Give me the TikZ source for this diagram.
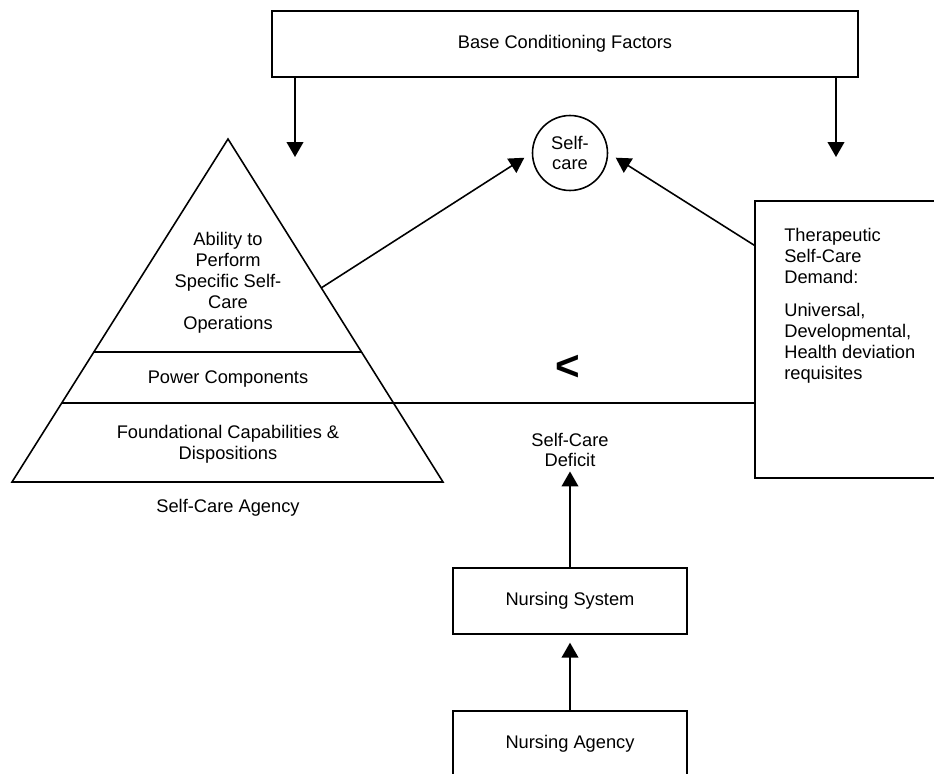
\documentclass[tikz,border=0pt]{standalone}
\usepackage{fontspec}
\setmainfont{Liberation Sans}
\usetikzlibrary{arrows.meta,calc}
\tikzset{
  txt/.style={font=\fontsize{10.4}{11.9}\selectfont, inner sep=2pt},
  box/.style={txt, draw, line width=0.9pt, minimum width=4.68cm, minimum height=1.32cm},
  flow/.style={-{Triangle[width=9.5pt,length=8.5pt]}, line width=0.9pt}
}
\begin{document}
\begin{tikzpicture}[x=0.02cm,y=-0.02cm, line width=0.9pt]
\useasboundingbox (0,0) rectangle (934,774);
\node [box, minimum width=11.72cm] (bcf) at (565,44) {Base Conditioning Factors};
\node [txt, draw, circle, minimum size=1.5cm, align=center, inner sep=0pt] (sc) at (570,153) {Self-\\care};
\node [box, minimum width=3.8cm, minimum height=5.54cm] (tscd) at (850,339.5) {};
\node [txt, anchor=north west, align=left] (tscdtxt) at (780,224) {Therapeutic\\Self-Care\\Demand:\\[7pt]Universal,\\Developmental,\\Health deviation\\requisites};
\node [box] (nsys) at (570,601) {Nursing System};
\node [box] (nag) at (570,744) {Nursing Agency};
\node [txt, align=center] (scd) at (570,450) {Self-Care\\Deficit};
\node [txt, font=\fontsize{24}{24}\selectfont\bfseries] (lt) at (568,368) {<};
\coordinate (apex) at (228,139) ;
\coordinate (bl) at (12,482) ;
\coordinate (br) at (443,482) ;
\draw (apex) -- (br) -- (bl) -- cycle ;
\draw ($(apex)!0.621!(bl)$) -- ($(apex)!0.621!(br)$) ;
\draw ($(apex)!0.770!(bl)$) coordinate (lvl) -- (lvl -| tscd.west) ;
\node [txt, align=center] (abl) at (228,283) {Ability to\\Perform\\Specific Self-\\Care\\Operations};
\node [txt] (pow) at (228,379) {Power Components};
\node [txt, align=center] (fnd) at (228,444) {Foundational Capabilities \&\\Dispositions};
\node [txt] (sca) at (228,508) {Self-Care Agency};
\coordinate (bcfl) at (295,157) ;
\coordinate (bcfr) at (836,157) ;
\draw [flow] (bcf.south -| bcfl) -- (bcfl) ;
\draw [flow] (bcf.south -| bcfr) -- (bcfr) ;
\coordinate (trir) at ($(apex)!0.434!(br)$) ;
\coordinate (tscdin) at ($(tscd.north west)+(0,45)$) ;
\draw [flow, shorten >=5pt] (trir) -- (sc.180) ;
\draw [flow, shorten >=5pt] (tscdin) -- (sc.0) ;
\draw [flow] (nsys) -- (scd) ;
\draw [flow, shorten >=4.5pt] (nag) -- (nsys) ;
\end{tikzpicture}
\end{document}
